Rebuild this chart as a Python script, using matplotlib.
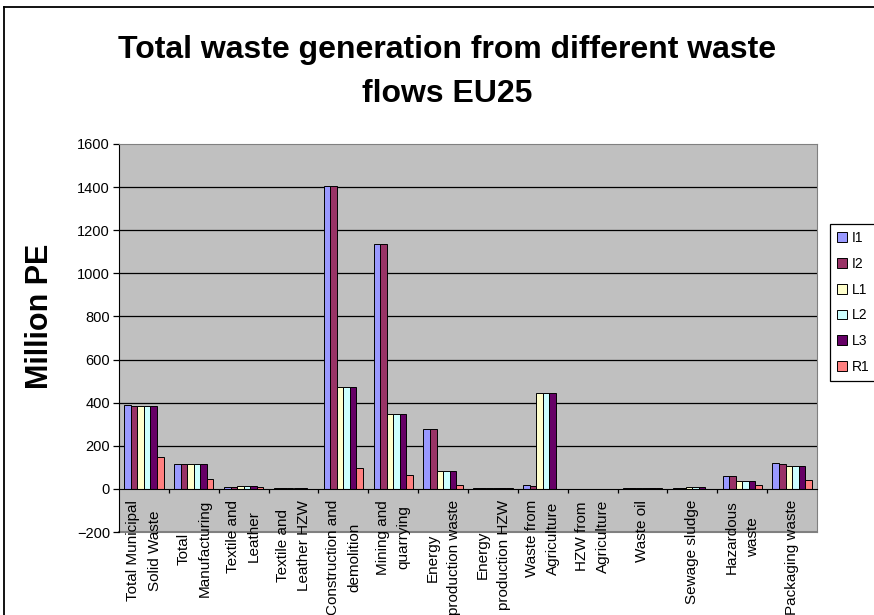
import matplotlib
matplotlib.use("Agg")
import matplotlib.pyplot as plt
from matplotlib.lines import Line2D
import numpy as np

plt.rcParams['font.family'] = ['Liberation Sans', 'DejaVu Sans']

categories = ["Total Municipal\nSolid Waste", "Total\nManufacturing", "Textile and\nLeather",
              "Textile and\nLeather HZW", "Construction and\ndemolition", "Mining and\nquarrying",
              "Energy\nproduction waste", "Energy\nproduction HZW", "Waste from\nAgriculture",
              "HZW from\nAgriculture", "Waste oil", "Sewage sludge", "Hazardous\nwaste",
              "Packaging waste"]
series_names = ["I1", "I2", "L1", "L2", "L3", "R1"]
I1 = [389, 116, 9, 2, 1405, 1134, 280, 3, 18, 0, 3, 3, 62, 121]
I2 = [383, 116, 9, 2, 1405, 1134, 280, 3, 12, 0, 3, 3, 62, 114]
L1 = [383, 116, 15, 2, 473, 349, 83, 3, 445, 0, 3, 9, 36, 105]
L2 = [383, 116, 15, 2, 473, 349, 83, 3, 445, 0, 3, 9, 36, 105]
L3 = [383, 116, 15, 2, 473, 349, 83, 3, 445, 0, 3, 9, 36, 105]
R1 = [147, 46, 9, 0, 99, 66, 20, 3, 0, 0, 3, 0, 19, 42]
colors = ['#9999FF', '#993366', '#FFFFCC', '#CCFFFF', '#660066', '#FF8080']

fig = plt.figure(figsize=(8.74, 6.15), dpi=100)
# chart frame: only the left and top edges are inside the image
fx, fy = 4/874, 1 - 7/615
fig.add_artist(Line2D([fx, 1.0], [fy, fy], transform=fig.transFigure, color='black', linewidth=1.3))
fig.add_artist(Line2D([fx, fx], [0.0, fy], transform=fig.transFigure, color='black', linewidth=1.3))

ax = fig.add_axes([119/874, 1 - 532/615, 698/874, 388/615])
ax.set_facecolor('#C0C0C0')

x = np.arange(len(categories))
w = 0.131
for j, (name, vals) in enumerate(zip(series_names, [I1, I2, L1, L2, L3, R1])):
    ax.bar(x + (j - 2.5) * w, vals, w, color=colors[j], edgecolor='black',
           linewidth=0.7, label=name, zorder=3)

ax.set_ylim(-200, 1600)
ax.set_xlim(-0.5, len(categories) - 0.5)
ax.set_yticks(np.arange(-200, 1601, 200))
for v in range(200, 1600, 200):
    ax.axhline(v, color='black', linewidth=0.9, zorder=1)

ax.spines['bottom'].set_position(('data', 0))
ax.spines['bottom'].set_color('black')
ax.spines['left'].set_color('black')
ax.spines['top'].set_color('#808080')
ax.spines['right'].set_color('#808080')
ax.spines['bottom'].set_zorder(4)

ax.set_xticks(x)
ax.set_xticklabels(categories, rotation=90, fontsize=11, va='top', ha='center',
                   multialignment='center', linespacing=1.65)
ax.set_xticks(np.arange(0.5, len(categories) - 0.5, 1), minor=True)
ax.tick_params(axis='x', which='major', length=0, pad=8)
ax.tick_params(axis='x', which='minor', length=3, direction='out', width=0.9)
ax.tick_params(axis='y', length=4.5, direction='out', labelsize=10.5, width=0.9, pad=2)

# bottom border of plot area at -200
ax.axhline(-200, color='#808080', linewidth=1.5, zorder=1, clip_on=False)

fig.text(40/874, 1 - 316/615, "Million PE", rotation=90, fontsize=22, fontweight='bold',
         ha='center', va='center')
fig.text(447/874, 1 - 58/615, "Total waste generation from different waste", fontsize=23,
         fontweight='bold', ha='center', va='baseline')
fig.text(447/874, 1 - 102/615, "flows EU25", fontsize=23, fontweight='bold',
         ha='center', va='baseline')

leg = fig.legend(loc='upper left', bbox_to_anchor=(830/874, 1 - 224/615), fontsize=10,
                 frameon=True, fancybox=False, framealpha=1, edgecolor='black',
                 handlelength=0.7, handleheight=0.7, handletextpad=0.4,
                 labelspacing=0.85, borderpad=0.5, borderaxespad=0)
leg.get_frame().set_linewidth(0.9)

plt.savefig("out.png", dpi=100)
